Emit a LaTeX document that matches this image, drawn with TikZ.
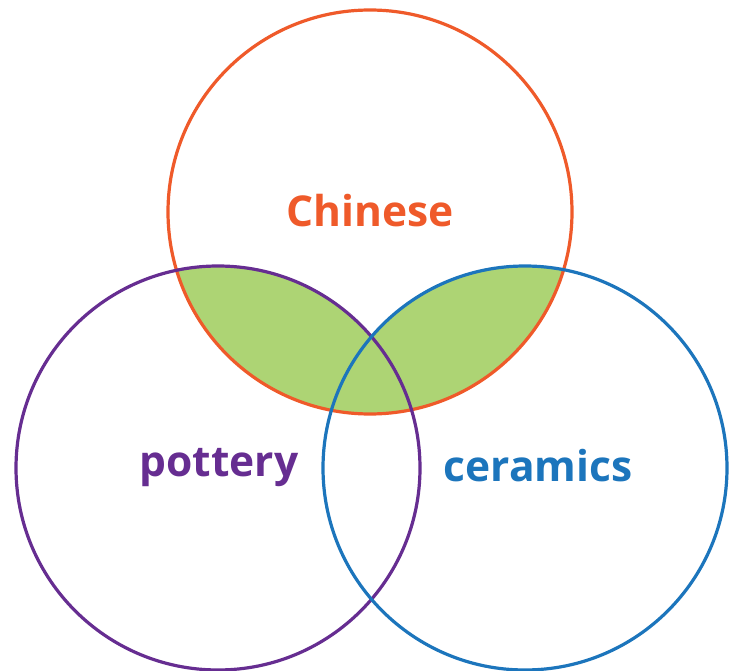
\documentclass[tikz,border=0pt]{standalone}
\usepackage{fontspec}
\setmainfont{Open Sans}
\definecolor{corange}{HTML}{EF5A2A}
\definecolor{cpurple}{HTML}{662D91}
\definecolor{cblue}{HTML}{1C75BC}
\definecolor{cgreen}{HTML}{ADD474}
\begin{document}
\begin{tikzpicture}[x=1pt,y=-1pt,
  ring/.style={line width=3.2pt},
  lab/.style={font=\fontsize{42.5}{50}\selectfont\bfseries, inner sep=0pt}]
\useasboundingbox (0,0) rectangle (734,671);
\coordinate (cc) at (370,212);
\coordinate (cp) at (218,468);
\coordinate (ck) at (525,468);
\begin{scope}
  \clip (cc) circle[radius=202];
  \fill[cgreen] (cp) circle[radius=202];
  \fill[cgreen] (ck) circle[radius=202];
\end{scope}
\draw[ring, corange] (cc) circle[radius=202];
\draw[ring, cpurple] (cp) circle[radius=202];
\draw[ring, cblue] (ck) circle[radius=202];
\node[lab, text=corange] (tc) at (370,211) {Chinese};
\node[lab, text=cpurple] (tp) at (219,468) {pottery};
\node[lab, text=cblue] (tk) at (538,466) {ceramics};
\end{tikzpicture}
\end{document}
